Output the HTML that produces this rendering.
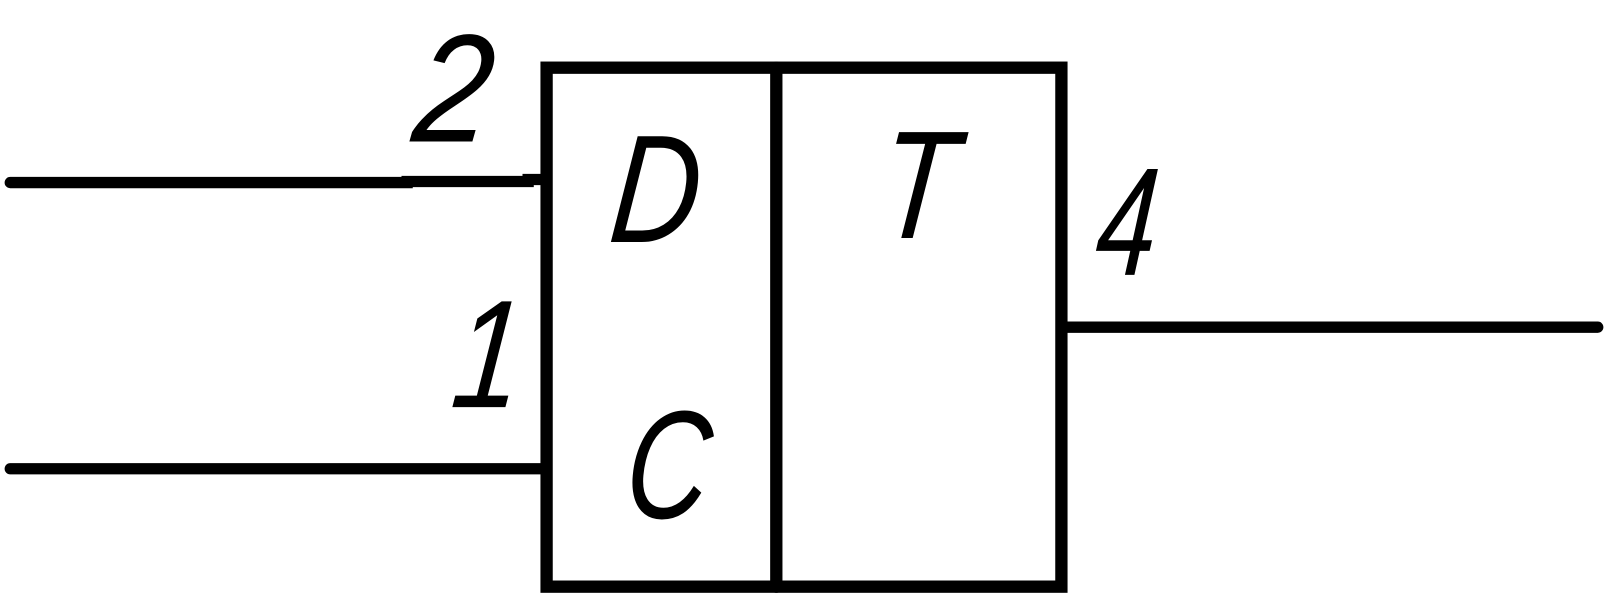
<!DOCTYPE html>
<html><head><meta charset="utf-8"><style>
html,body{margin:0;padding:0;background:#fff;width:1608px;height:600px;overflow:hidden}
svg{display:block}
text{font-family:"Liberation Sans",sans-serif;font-style:italic;fill:#000;stroke:none}
</style></head><body>
<svg width="1608" height="600" viewBox="0 0 1568 585" preserveAspectRatio="none">
<g fill="none" stroke="#000" stroke-width="12" stroke-linecap="round">
<rect x="533" y="66" width="502" height="506"/>
<line x1="757" y1="66" x2="757" y2="572"/>
</g>
<g stroke="#000" stroke-width="11" stroke-linecap="round" fill="none">
<polyline points="10,178 397,178 397,177 515,177 515,175 533,175"/>
<line x1="10" y1="457" x2="527" y2="457"/>
<line x1="1041" y1="319" x2="1558" y2="319"/>
</g>
<text x="400" y="138" font-size="150" transform="translate(400 138) scale(0.9 1) skewX(-7) translate(-400 -138)">2</text>
<text x="438" y="397" font-size="150" transform="translate(438 397) scale(0.8 1) skewX(-7) translate(-438 -397)">1</text>
<text x="592" y="236" font-size="150" transform="translate(592 236) scale(0.8 1) skewX(-7) translate(-592 -236)">D</text>
<text x="854" y="232" font-size="150" transform="translate(854 232) scale(0.8 1) skewX(-7) translate(-854 -232)">T</text>
<text x="1066" y="268" font-size="150" transform="translate(1066 268) scale(0.7 1) skewX(-7) translate(-1066 -268)">4</text>
<text x="607" y="505" font-size="150" transform="translate(607 505) scale(0.75 1) skewX(-7) translate(-607 -505)">C</text>
</svg>
</body></html>
